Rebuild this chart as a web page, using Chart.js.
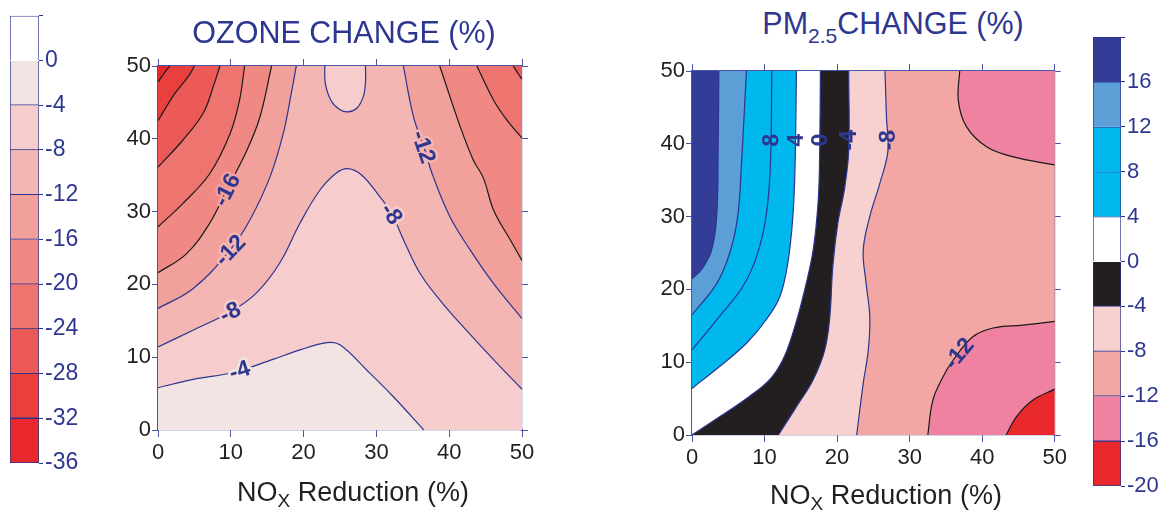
<!DOCTYPE html>
<html>
<head>
<meta charset="utf-8">
<title>Ozone and PM2.5 change</title>
<script src="https://cdn.jsdelivr.net/npm/chart.js@4.4.1/dist/chart.umd.min.js"></script>
<style>
  body { margin: 0; background: #fff; }
  #wrap { position: relative; width: 1171px; height: 513px; overflow: hidden;
          font-family: "Liberation Sans", Arial, Helvetica, sans-serif; }
  canvas { position: absolute; }
  .title { position: absolute; transform: translateX(-50%); color: #2e3790; font-size: 30.5px;
           line-height: 1; white-space: nowrap; }
  .title .sub { font-size: 21px; position: relative; top: 9px; }
  .xlab { position: absolute; transform: translateX(-50%); color: #231f20; font-size: 27px;
          line-height: 1; white-space: nowrap; }
  .xlab .sub { font-size: 19px; position: relative; top: 6px; }
</style>
</head>
<body>
<div id="wrap">
  <canvas id="barO3" width="110" height="513" style="left:0;top:0"></canvas>
  <canvas id="o3" width="440" height="440" style="left:100px;top:50px"></canvas>
  <canvas id="pm" width="440" height="440" style="left:630px;top:50px"></canvas>
  <canvas id="barPM" width="91" height="513" style="left:1080px;top:0"></canvas>
  <div class="title" style="left:344px;top:17px">OZONE CHANGE (%)</div>
  <div class="title" style="left:893px;top:8px">PM<span class="sub">2.5</span>CHANGE (%)</div>
  <div class="xlab" style="left:353px;top:479px">NO<span class="sub">X</span> Reduction (%)</div>
  <div class="xlab" style="left:886px;top:482px">NO<span class="sub">X</span> Reduction (%)</div>
</div>
<script>
// colour scales (band boundaries, top to bottom) and band colours
const ozoneLevels = [4, 0, -4, -8, -12, -16, -20, -24, -28, -32, -36];
const ozoneColors = ['#ffffff', '#f2e4e3', '#f6cdcc', '#f4b6b3', '#f2a09c', '#f08984',
                     '#ee7470', '#eb5a56', '#e9403d', '#e8282c'];
const pmLevels = [20, 16, 12, 8, 4, 0, -4, -8, -12, -16, -20];
const pmColors = ['#333c96', '#5b9fd6', '#00b7ee', '#00b7ee', '#ffffff', '#231f20',
                  '#f6d1d0', '#f2a7a4', '#ef82a0', '#e9282e'];
const axisTicks = [0, 10, 20, 30, 40, 50];

// ozone contour lines, [NOx reduction, VOC reduction]
const o3Minus4 = [[0, 5.8], [5, 7], [10.3, 7.9], [15.8, 9.7], [19.5, 11], [23.2, 12], [25, 11.7],
                  [28.7, 8.2], [32.3, 4.6], [36.5, 0]];
const o3Minus8 = [[0, 11.4], [4.8, 13.7], [9.9, 16.2], [13.5, 18.8], [16.7, 22.9], [19.5, 28.4],
                  [22.2, 32.9], [24.5, 35.3], [26.1, 35.9], [28, 35], [30.5, 32], [32.1, 29.7],
                  [34, 25.5], [36, 21.5], [39, 17.5], [43, 13], [47, 8.7], [50, 5.6]];
const o3Minus8Oval = [[22.9, 50], [23, 47.5], [23.8, 45.2], [25, 44], [26.1, 43.7], [27.3, 44.2],
                      [28.2, 45.8], [28.5, 47.8], [28.5, 50]];
const o3Minus12L = [[0, 16.7], [4.8, 19.4], [9.9, 24.7], [12.6, 28.8], [15.4, 34.8], [17.2, 40.7],
                    [18.3, 46.2], [19, 50]];
const o3Minus12R = [[33.7, 50], [35.1, 43], [36.5, 38.9], [37.8, 34.8], [40.1, 29.3], [42.9, 24.7],
                    [46.1, 20.1], [50, 15.3]];
const o3Minus16L = [[0, 21.6], [3.9, 24.2], [7.1, 28.4], [9.4, 32.9], [12.2, 38.4], [14, 43], [15.6, 50]];
const o3Minus16R = [[38.7, 50], [41.5, 41.7], [43.3, 37.1], [44.7, 34.6], [46.1, 30.2], [48.4, 26.1],
                    [50, 23.3]];
const o3Minus20L = [[0, 27.9], [3.4, 31.1], [7.1, 35.2], [9.9, 40.7], [11.2, 45.3], [11.9, 50]];
const o3Minus20R = [[43.8, 50], [46.1, 45.3], [47.9, 42.6], [50, 40.1]];
const o3Minus24L = [[0, 36.1], [3.4, 39.8], [6.2, 43.5], [7.6, 47.2], [8.5, 50]];
const o3Minus24R = [[48.8, 50], [49.5, 48.9], [50, 48.2]];
const o3Minus28L = [[0, 42.5], [2.3, 46.2], [4.2, 48.6], [5, 50]];
const o3Minus32L = [[0, 47.8], [0.9, 49.1], [1.6, 50]];

// PM2.5 contour lines, listed bottom to top
const pm16 = [[0, 21.5], [1.3, 22.7], [2.7, 25.4], [3.4, 30], [3.6, 39], [3.7, 50]];
const pm12 = [[0, 16.5], [3.4, 20.8], [5.2, 25], [6.3, 30], [6.8, 36.9], [7.5, 50]];
const pm8 = [[0, 11.7], [3.8, 16.3], [7, 20.4], [8.9, 24.5], [10.2, 30], [10.8, 36.9], [11, 50]];
const pm4 = [[0, 6.4], [3.8, 9.4], [7.5, 12.6], [10.2, 15.8], [12.1, 19], [13.2, 23.6], [13.9, 30],
             [14.2, 36.9], [14.4, 50]];
const pm0 = [[0, 0], [3.8, 2.5], [7.9, 5.3], [10.7, 7.6], [12.5, 10.3], [13.9, 14], [15.3, 19],
             [16.7, 25.4], [17.4, 32.3], [17.6, 39], [17.7, 50]];
const pmMinus4 = [[11.9, 0], [14.4, 3.9], [16.7, 7.6], [18.3, 11.7], [19, 16.3], [19.4, 23.1],
                  [20.1, 29.1], [21, 33.7], [21.6, 39.1], [21.6, 50]];
const pmMinus8 = [[22.7, 0], [23.6, 7.1], [24.3, 11.7], [24.5, 16.3], [24, 20.8], [23.6, 25.4],
                  [24.5, 30], [25.9, 34.6], [27, 39], [26.8, 43.7], [26.6, 50]];
const pmMinus12Low = [[32.5, 0], [33.2, 4.8], [34.6, 8], [36, 10.3], [38.7, 13.5], [41.5, 14.7],
                      [45.6, 15.1], [50, 15.6]];
const pmMinus12High = [[50, 37.1], [44.3, 38.2], [40.6, 39.6], [37.8, 42.4], [36.7, 46], [36.9, 50]];
const pmMinus16 = [[43.3, 0], [44.7, 2.5], [47, 4.8], [50, 6.3]];

// contour label anchors
const o3Labels = [
  {text: '-4', x: 11.2, y: 8.2}, {text: '-8', x: 9.9, y: 16.2}, {text: '-12', x: 9.9, y: 24.7},
  {text: '-16', x: 9.4, y: 33}, {text: '-12', x: 36.5, y: 38.9}, {text: '-8', x: 32.1, y: 29.7}
];
const pmLabels = [
  {text: '8', x: 11, y: 40.5}, {text: '4', x: 14.3, y: 40.5}, {text: '0', x: 17.7, y: 40.5},
  {text: '-4', x: 21.7, y: 40.5}, {text: '-8', x: 26.9, y: 40.5}, {text: '-12', x: 37, y: 11}
];

// which side of each line gets painted, and towards which edge
const o3Contours = [
  {level: -4, points: o3Minus4, toward: 0, side: 'hi'},
  {level: -8, points: o3Minus8, toward: 50, side: 'lo'},
  {level: -8, points: o3Minus8Oval, toward: 50, side: 'hi'},
  {level: -12, points: o3Minus12L, toward: 50, side: 'lo'},
  {level: -12, points: o3Minus12R, toward: 50, side: 'lo'},
  {level: -16, points: o3Minus16L, toward: 50, side: 'lo'},
  {level: -16, points: o3Minus16R, toward: 50, side: 'lo'},
  {level: -20, points: o3Minus20L, toward: 50, side: 'lo'},
  {level: -20, points: o3Minus20R, toward: 50, side: 'lo'},
  {level: -24, points: o3Minus24L, toward: 50, side: 'lo'},
  {level: -24, points: o3Minus24R, toward: 50, side: 'lo'},
  {level: -28, points: o3Minus28L, toward: 50, side: 'lo'},
  {level: -32, points: o3Minus32L, toward: 50, side: 'lo'}
];
const pmContours = [
  {level: -8, points: pmMinus8, toward: 0, side: 'hi'},
  {level: -4, points: pmMinus4, toward: 0, side: 'hi'},
  {level: 0, points: pm0, toward: 0, side: 'hi'},
  {level: 4, points: pm4, toward: 0, side: 'hi'},
  {level: 8, points: pm8, toward: 0, side: 'hi'},
  {level: 12, points: pm12, toward: 0, side: 'hi'},
  {level: 16, points: pm16, toward: 0, side: 'hi'},
  {level: -12, points: pmMinus12Low, toward: 50, side: 'lo'},
  {level: -12, points: pmMinus12High, toward: 50, side: 'lo'},
  {level: -16, points: pmMinus16, toward: 50, side: 'lo'}
];

const FONT = '"Liberation Sans", Arial, Helvetica, sans-serif';
const NAVY = '#2e3790';
const LINE_NAVY = '#2b3590';
const AXIS = '#4a54a6';
const INK = '#231f20';
Chart.defaults.font.family = FONT;

// paints the plot area with the base band before the filled lines go on top
const areaBg = {
  id: 'areaBg',
  beforeDatasetsDraw(chart, args, opts) {
    const a = chart.chartArea, ctx = chart.ctx;
    ctx.save();
    ctx.fillStyle = opts.color;
    ctx.fillRect(a.left, a.top, a.right - a.left, a.bottom - a.top);
    ctx.restore();
  }
};

// puts each label onto the nearest contour, turned along it
const contourLabels = {
  id: 'contourLabels',
  afterDatasetsDraw(chart, args, opts) {
    const ctx = chart.ctx, xs = chart.scales.x, ys = chart.scales.y;
    (opts.labels || []).forEach(lab => {
      const px = xs.getPixelForValue(lab.x), py = ys.getPixelForValue(lab.y);
      let best = null;
      chart.data.datasets.forEach((ds, i) => {
        const pts = chart.getDatasetMeta(i).data;
        for (let k = 0; k < pts.length - 1; k++) {
          const a = pts[k], b = pts[k + 1];
          const dx = b.x - a.x, dy = b.y - a.y;
          const l2 = dx * dx + dy * dy || 1;
          const t = Math.max(0, Math.min(1, ((px - a.x) * dx + (py - a.y) * dy) / l2));
          const qx = a.x + t * dx, qy = a.y + t * dy;
          const d = Math.hypot(px - qx, py - qy);
          if (!best || d < best.d) best = {d, qx, qy, ang: Math.atan2(dy, dx)};
        }
      });
      if (!best) return;
      let deg = best.ang * 180 / Math.PI;
      while (deg > 85) deg -= 180;
      while (deg <= -95) deg += 180;
      const rad = deg * Math.PI / 180;
      let halo = null;
      if (opts.halo) {
        const sx = Math.round(best.qx - Math.sin(rad) * 10), sy = Math.round(best.qy + Math.cos(rad) * 10);
        const p = ctx.getImageData(sx, sy, 1, 1).data;
        halo = 'rgb(' + p[0] + ',' + p[1] + ',' + p[2] + ')';
      }
      ctx.save();
      ctx.translate(best.qx, best.qy);
      ctx.rotate(rad);
      ctx.font = 'bold 23px ' + FONT;
      ctx.textAlign = 'center';
      ctx.textBaseline = 'middle';
      if (halo) {
        ctx.strokeStyle = halo;
        ctx.lineWidth = 5;
        ctx.lineJoin = 'round';
        ctx.strokeText(lab.text, 0, 1);
      }
      ctx.fillStyle = NAVY;
      ctx.fillText(lab.text, 0, 1);
      ctx.restore();
    });
  }
};

function contourDatasets(list, levels, colors, lineColor, indexAxis) {
  return list.map((c, i) => ({
    data: c.points.map(([x, y]) => ({x, y})),
    indexAxis: indexAxis,
    fill: {value: c.toward},
    backgroundColor: colors[levels.indexOf(c.level) - (c.side === 'hi' ? 1 : 0)],
    borderColor: lineColor(c.level),
    borderWidth: 1.2,
    pointRadius: 0,
    tension: 0.38,
    order: list.length - i
  }));
}

function frameAxis(axis, position, showLabels, size) {
  return {
    type: 'linear', axis: axis, position: position, min: 0, max: 50, z: 1,
    afterBuildTicks: s => { s.ticks = axisTicks.map(v => ({value: v})); },
    ticks: {display: showLabels, font: {size: 22}, color: INK, padding: axis === 'x' ? 3 : 1, maxRotation: 0},
    grid: {drawOnChartArea: false, drawTicks: true, tickLength: axis === 'x' ? 7 : 6, color: AXIS, lineWidth: 1},
    border: {display: true, color: AXIS, width: 1.2},
    afterFit: s => { if (axis === 'x') s.height = size; else s.width = size; }
  };
}

function panel(id, datasets, bg, labels, halo, pad, yWidth, xHeight) {
  return new Chart(document.getElementById(id), {
    type: 'line',
    data: {datasets},
    plugins: [areaBg, contourLabels],
    options: {
      responsive: false,
      animation: false,
      layout: {padding: pad},
      plugins: {
        legend: {display: false},
        tooltip: {enabled: false},
        areaBg: {color: bg},
        contourLabels: {labels, halo}
      },
      scales: {
        x: frameAxis('x', 'bottom', true, xHeight),
        y: frameAxis('y', 'left', true, yWidth),
        x2: frameAxis('x', 'top', false, 0),
        y2: frameAxis('y', 'right', false, 0)
      }
    }
  });
}

function colorbar(id, levels, colors, pad, axisWidth, fontSize) {
  const n = colors.length;
  return new Chart(document.getElementById(id), {
    type: 'bar',
    data: {
      labels: [''],
      datasets: colors.map((c, i) => ({
        data: [[levels[i + 1], levels[i]]],
        backgroundColor: c,
        borderColor: LINE_NAVY,
        borderWidth: 1,
        borderSkipped: i === n - 1 ? false : 'bottom',
        grouped: false,
        barPercentage: 1,
        categoryPercentage: 1
      }))
    },
    options: {
      responsive: false,
      animation: false,
      layout: {padding: pad},
      plugins: {legend: {display: false}, tooltip: {enabled: false}},
      scales: {
        x: {display: false},
        y: {
          position: 'right', min: levels[n], max: levels[0],
          afterBuildTicks: s => { s.ticks = levels.slice().reverse().map(v => ({value: v})); },
          ticks: {callback: v => (v === levels[0] ? '' : String(v)), font: {size: fontSize}, color: NAVY, padding: 2},
          grid: {drawOnChartArea: false, tickLength: 4, color: LINE_NAVY},
          border: {display: false},
          afterFit: s => { s.width = axisWidth; }
        }
      }
    }
  });
}

colorbar('barO3', ozoneLevels, ozoneColors, {left: 10, top: 15, bottom: 50, right: 0}, 71, 23);
colorbar('barPM', pmLevels, pmColors, {left: 13, top: 37, bottom: 27, right: 0}, 50, 22);

panel('o3',
  contourDatasets(o3Contours, ozoneLevels, ozoneColors, lv => (lv >= -12 ? LINE_NAVY : '#1a1a1a'), 'x'),
  ozoneColors[2], o3Labels, true, {top: 16, right: 18, left: 0, bottom: 0}, 58, 60);

panel('pm',
  contourDatasets(pmContours, pmLevels, pmColors, lv => (lv >= -8 ? LINE_NAVY : '#1a1a1a'), 'y'),
  pmColors[7], pmLabels, false, {top: 21, right: 15, left: 0, bottom: 0}, 62, 55);
</script>
</body>
</html>
